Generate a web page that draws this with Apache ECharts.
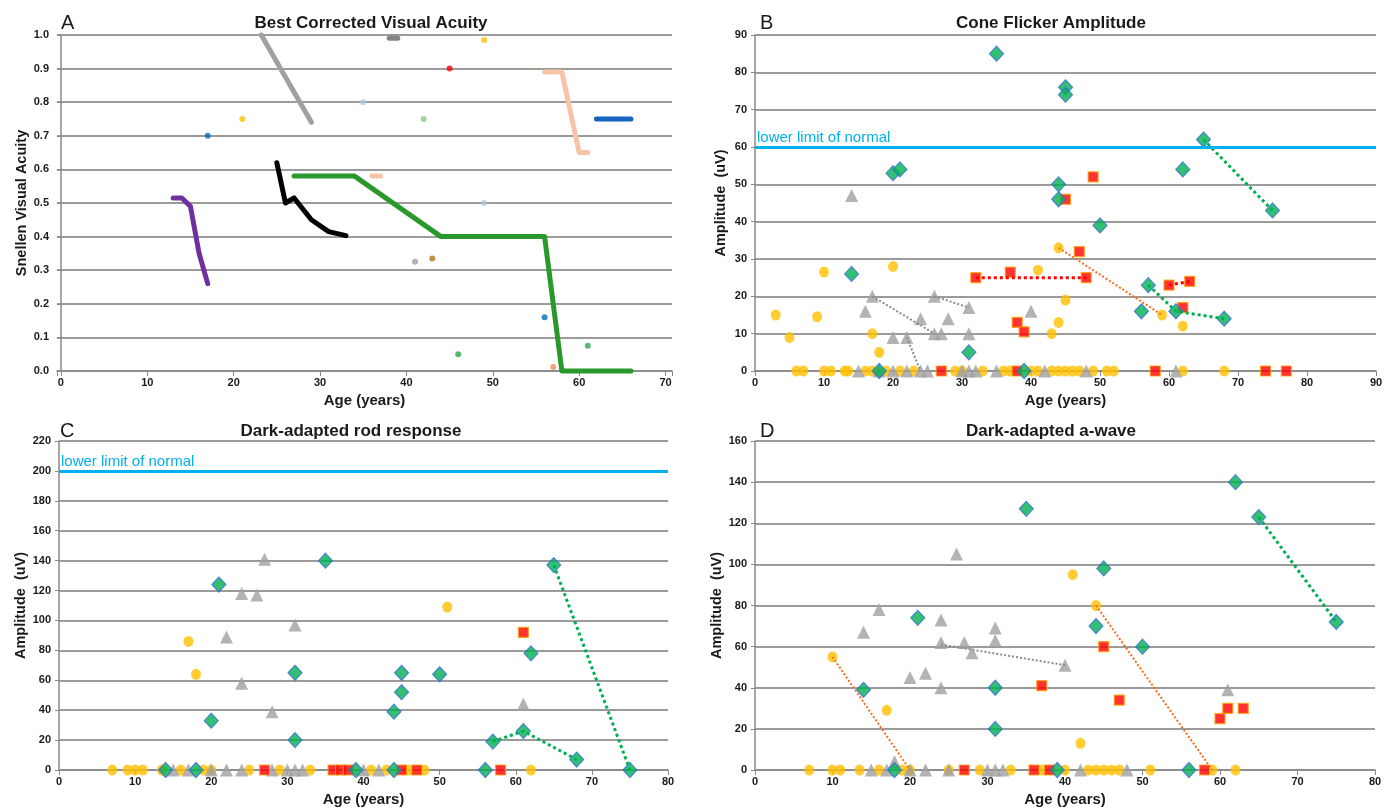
<!DOCTYPE html>
<html>
<head>
<meta charset="utf-8">
<title>Visual acuity and ERG amplitudes by age</title>
<script src="https://cdn.jsdelivr.net/npm/echarts@6/dist/echarts.min.js"></script>
<style>
  html, body { margin: 0; padding: 0; background: #fff; }
  #chart { width: 1395px; height: 809px; }
</style>
</head>
<body>
<div id="chart"></div>
<script>
// ---- A: best corrected visual acuity, one trace per patient ----
const aGreyLine = [[23.2, 1.0], [29, 0.74]]
const aDarkGreyLine = [[38, 0.99], [39, 0.99]]
const aPeachLine = [[56, 0.89], [58, 0.89], [60, 0.65], [61, 0.65]]
const aPeachShort = [[36, 0.58], [37, 0.58]]
const aBlueLine = [[62, 0.75], [66, 0.75]]
const aBlackLine = [[25, 0.62], [26, 0.5], [27, 0.515], [29, 0.45], [31, 0.415], [33, 0.403]]
const aGreenLine = [[27, 0.58], [34, 0.58], [44, 0.4], [56, 0.4], [58, 0], [66, 0]]
const aPurpleLine = [[13, 0.515], [14, 0.515], [15, 0.49], [16, 0.35], [17, 0.26]]
const aDots = [[17, 0.7], [21, 0.75], [35, 0.8], [42, 0.75], [45, 0.9], [49, 0.985], [49, 0.5],
  [41, 0.325], [43, 0.335], [56, 0.16], [46, 0.05], [61, 0.075], [57, 0.012]]

// ---- B: cone flicker amplitude ----
const bCircles = [[3, 15], [5, 9], [9, 14.5], [10, 26.5], [17, 10], [18, 5], [20, 28], [41, 27], [43, 10],
  [44, 13], [44, 33], [45, 19], [59, 15], [62, 12]]
const bCircleZeroAges = [6, 7, 10, 11, 13, 13.5, 16, 17, 19, 21, 23, 29, 30, 33, 36, 37, 40, 41, 43, 44, 45,
  46, 47, 49, 51, 52, 62, 68]
const bTriangles = [[14, 47], [16, 16], [17, 20], [20, 9], [22, 9], [24, 14], [26, 20], [26, 10], [27, 10],
  [28, 14], [31, 17], [31, 10], [40, 16]]
const bTriangleZeroAges = [15, 18, 20, 22, 24, 25, 30, 31, 32, 35, 42, 48, 61]
const bSquares = [[49, 52], [45, 46], [47, 32], [37, 26.5], [32, 25], [48, 25], [38, 13], [39, 10.5],
  [60, 23], [63, 24], [62, 17]]
const bSquareZeroAges = [27, 38, 58, 74, 77]
const bDiamonds = [[35, 85], [45, 76], [45, 74], [20, 53], [21, 54], [44, 50], [44, 46], [50, 39], [65, 62],
  [62, 54], [75, 43], [14, 26], [31, 5], [57, 23], [56, 16], [61, 16], [68, 14]]
const bDiamondZeroAges = [18, 39]
const bGreyLinks = [[[17, 20], [26, 10]], [[26, 20], [31, 17]], [[22, 9], [24, 0]]]
const bGreenLinks = [[[65, 62], [75, 43]], [[57, 23], [61, 16], [68, 14]]]
const bRedLinks = [[[32, 25], [48, 25]], [[60, 23], [63, 24]]]
const bOrangeLinks = [[[44, 33], [59, 15]]]
const bNormal = 60

// ---- C: dark-adapted rod response ----
const cCircles = [[17, 86], [18, 64], [51, 109]]
const cCircleZeroAges = [7, 9, 10, 11, 13.5, 16, 19, 20, 25, 29, 33, 41, 43, 46, 48, 62]
const cTriangles = [[27, 141], [24, 118], [26, 117], [31, 97], [22, 89], [24, 58], [28, 39], [61, 44]]
const cTriangleZeroAges = [15, 17, 20, 22, 24, 28, 30, 31, 32, 40, 42]
const cSquares = [[61, 92]]
const cSquareZeroAges = [27, 36, 37, 38, 45, 47, 58]
const cDiamonds = [[35, 140], [21, 124], [65, 137], [31, 65], [45, 65], [45, 52], [50, 64], [62, 78],
  [20, 33], [31, 20], [44, 39], [57, 19], [61, 26], [68, 7]]
const cDiamondZeroAges = [14, 18, 39, 44, 56, 75]
const cGreenLinks = [[[65, 137], [75, 0]], [[57, 19], [61, 26], [68, 7]]]
const cNormal = 200

// ---- D: dark-adapted a-wave ----
const dCircles = [[10, 55], [17, 29], [41, 95], [44, 80], [42, 13]]
const dCircleZeroAges = [7, 10, 11, 13.5, 16, 19, 20, 25, 29, 33, 37, 40, 43, 44, 45, 46, 47, 51, 59, 62]
const dTriangles = [[26, 105], [16, 78], [14, 67], [24, 73], [24, 62], [27, 62], [28, 57], [31, 69], [31, 63],
  [40, 51], [20, 45], [22, 47], [24, 40], [61, 39], [18, 4]]
const dTriangleZeroAges = [15, 17, 20, 22, 25, 30, 31, 32, 42, 48]
const dSquares = [[37, 41], [45, 60], [47, 34], [60, 25], [61, 30], [63, 30]]
const dSquareZeroAges = [27, 36, 38, 58]
const dDiamonds = [[62, 140], [35, 127], [65, 123], [45, 98], [75, 72], [21, 74], [44, 70], [50, 60],
  [14, 39], [31, 40], [31, 20]]
const dDiamondZeroAges = [18, 39, 56]
const dGreyLinks = [[[24, 61], [40, 51]]]
const dGreenLinks = [[[65, 123], [75, 72]]]
const dOrangeLinks = [[[10, 55], [20, 0]], [[44, 80], [59, 0]]]

const font = "'Liberation Sans', Arial, sans-serif"
const ink = '#1a1a1a'
const gridGrey = '#7a7a7a'

function withZeros(points, zeroAges) {
  return points.concat(zeroAges.map(a => [a, 0]))
}

function xAxis(idx, min, max, tenOnly) {
  return {
    type: 'value', gridIndex: idx, min: min, max: max, splitNumber: 8,
    name: 'Age (years)', nameLocation: 'middle', nameGap: 22,
    nameTextStyle: { fontSize: 15, fontWeight: 'bold', color: ink, fontFamily: font },
    axisLine: { lineStyle: { color: '#8a8a8a', width: 1.5 } },
    axisTick: { length: 5, lineStyle: { color: '#8a8a8a' } },
    axisLabel: {
      fontSize: 11, fontWeight: 'bold', color: ink, fontFamily: font, margin: 6,
      formatter: v => (tenOnly && Math.abs(v % 10) > 1e-6) ? '' : String(v)
    },
    splitLine: { show: false }
  }
}

function yAxis(idx, max, interval, name, digits, gap) {
  return {
    type: 'value', gridIndex: idx, min: 0, max: max, interval: interval,
    name: name, nameLocation: 'middle', nameGap: gap,
    nameTextStyle: { fontSize: 14.5, fontWeight: 'bold', color: ink, fontFamily: font },
    axisLine: { show: true, lineStyle: { color: '#8a8a8a', width: 1.5 } },
    axisTick: { show: true, length: 4, lineStyle: { color: '#8a8a8a' } },
    axisLabel: {
      fontSize: 11, fontWeight: 'bold', color: ink, fontFamily: font, margin: 8,
      formatter: v => v.toFixed(digits)
    },
    splitLine: { lineStyle: { color: gridGrey, width: 1.7 } }
  }
}

// marker looks shared by panels B, C and D
const markers = {
  circle: { symbol: 'circle', symbolSize: [10, 11], itemStyle: { color: '#FFC000' } },
  triangle: { symbol: 'triangle', symbolSize: [13, 13], itemStyle: { color: '#A0A0A0' } },
  square: { symbol: 'rect', symbolSize: 10, itemStyle: { color: '#FF0000', borderColor: '#FFA000', borderWidth: 1.2 } },
  diamond: { symbol: 'diamond', symbolSize: [14, 15], itemStyle: { color: '#00B050', borderColor: '#3A6FD8', borderWidth: 1.2 } }
}

function scatter(idx, data, kind, extra) {
  const m = markers[kind]
  return Object.assign({
    type: 'scatter', xAxisIndex: idx, yAxisIndex: idx, data: data,
    symbol: m.symbol, symbolSize: m.symbolSize, itemStyle: m.itemStyle,
    clip: false, silent: true
  }, extra || {})
}

function links(idx, groups, color, width) {
  return groups.map(g => ({
    type: 'line', xAxisIndex: idx, yAxisIndex: idx, data: g, symbol: 'none',
    lineStyle: { color: color, width: width, type: 'dotted' }, clip: false, silent: true
  }))
}

function normalLine(value) {
  return {
    silent: true, symbol: 'none',
    lineStyle: { color: '#00B0F0', width: 3, type: 'solid' },
    label: {
      show: true, position: 'insideStartTop', formatter: 'lower limit of normal',
      color: '#00B0F0', fontSize: 15, fontFamily: font, distance: [2, 2]
    },
    data: [{ yAxis: value }]
  }
}

function acuityLine(data, color) {
  return {
    type: 'line', xAxisIndex: 0, yAxisIndex: 0, data: data, symbol: 'none',
    lineStyle: { color: color, width: 5, cap: 'round', join: 'round' }, clip: false, silent: true
  }
}

const dotColors = ['#0070C0', '#FFC000', '#A9C8EC', '#86CB86', '#FF0000', '#FFC000', '#B4C4DC',
  '#A0A0A0', '#B8741A', '#0070C0', '#2FA84F', '#2FA84F', '#F58B5A']

const series = [
  acuityLine(aGreyLine, '#A0A0A0'),
  acuityLine(aDarkGreyLine, '#858585'),
  acuityLine(aPeachLine, '#F9C3A8'),
  acuityLine(aPeachShort, '#F9C3A8'),
  acuityLine(aBlueLine, '#1565C0'),
  acuityLine(aBlackLine, '#000000'),
  acuityLine(aGreenLine, '#2A982A'),
  acuityLine(aPurpleLine, '#7030A0'),
  {
    type: 'scatter', xAxisIndex: 0, yAxisIndex: 0, symbolSize: 6, silent: true,
    data: aDots.map((p, i) => ({ value: p, itemStyle: { color: dotColors[i] } }))
  },

  ...links(1, bGreyLinks, '#8a8a8a', 2),
  ...links(1, bGreenLinks, '#00B050', 3),
  ...links(1, bRedLinks, '#FF0000', 3),
  ...links(1, bOrangeLinks, '#FF6A1A', 2),
  scatter(1, withZeros(bCircles, bCircleZeroAges), 'circle', { markLine: normalLine(bNormal) }),
  scatter(1, withZeros(bTriangles, bTriangleZeroAges), 'triangle'),
  scatter(1, withZeros(bSquares, bSquareZeroAges), 'square'),
  scatter(1, withZeros(bDiamonds, bDiamondZeroAges), 'diamond'),

  ...links(2, cGreenLinks, '#00B050', 3),
  scatter(2, withZeros(cCircles, cCircleZeroAges), 'circle', { markLine: normalLine(cNormal) }),
  scatter(2, withZeros(cTriangles, cTriangleZeroAges), 'triangle'),
  scatter(2, withZeros(cSquares, cSquareZeroAges), 'square'),
  scatter(2, withZeros(cDiamonds, cDiamondZeroAges), 'diamond'),

  ...links(3, dGreyLinks, '#8a8a8a', 2),
  ...links(3, dGreenLinks, '#00B050', 3),
  ...links(3, dOrangeLinks, '#FF6A1A', 2),
  scatter(3, withZeros(dCircles, dCircleZeroAges), 'circle'),
  scatter(3, withZeros(dTriangles, dTriangleZeroAges), 'triangle'),
  scatter(3, withZeros(dSquares, dSquareZeroAges), 'square'),
  scatter(3, withZeros(dDiamonds, dDiamondZeroAges), 'diamond')
]

function heading(text, x, y) {
  return { text: text, left: x, top: y, textAlign: 'center',
    textStyle: { fontSize: 17, fontWeight: 'bold', color: ink, fontFamily: font } }
}
function letter(text, x, y) {
  return { text: text, left: x, top: y,
    textStyle: { fontSize: 20, fontWeight: 'normal', color: ink, fontFamily: font } }
}

const chart = echarts.init(document.getElementById('chart'))
chart.setOption({
  animation: false,
  backgroundColor: '#fff',
  title: [
    letter('A', 56, 8), heading('Best Corrected Visual Acuity', 366, 10),
    letter('B', 755, 8), heading('Cone Flicker Amplitude', 1046, 10),
    letter('C', 55, 416), heading('Dark-adapted rod response', 346, 418),
    letter('D', 755, 416), heading('Dark-adapted a-wave', 1046, 418)
  ],
  grid: [
    { left: 57, top: 35, width: 615, height: 336 },
    { left: 755, top: 35, width: 621, height: 336 },
    { left: 59, top: 441, width: 609, height: 329 },
    { left: 755, top: 441, width: 620, height: 329 }
  ],
  xAxis: [
    xAxis(0, -0.45, 70.75, true),
    xAxis(1, 0, 90, false),
    xAxis(2, 0, 80, false),
    xAxis(3, 0, 80, false)
  ],
  yAxis: [
    yAxis(0, 1, 0.1, 'Snellen Visual Acuity', 1, 27),
    yAxis(1, 90, 10, 'Amplitude  (uV)', 0, 27),
    yAxis(2, 220, 20, 'Amplitude  (uV)', 0, 31),
    yAxis(3, 160, 20, 'Amplitude  (uV)', 0, 27)
  ],
  series: series
})
</script>
</body>
</html>
